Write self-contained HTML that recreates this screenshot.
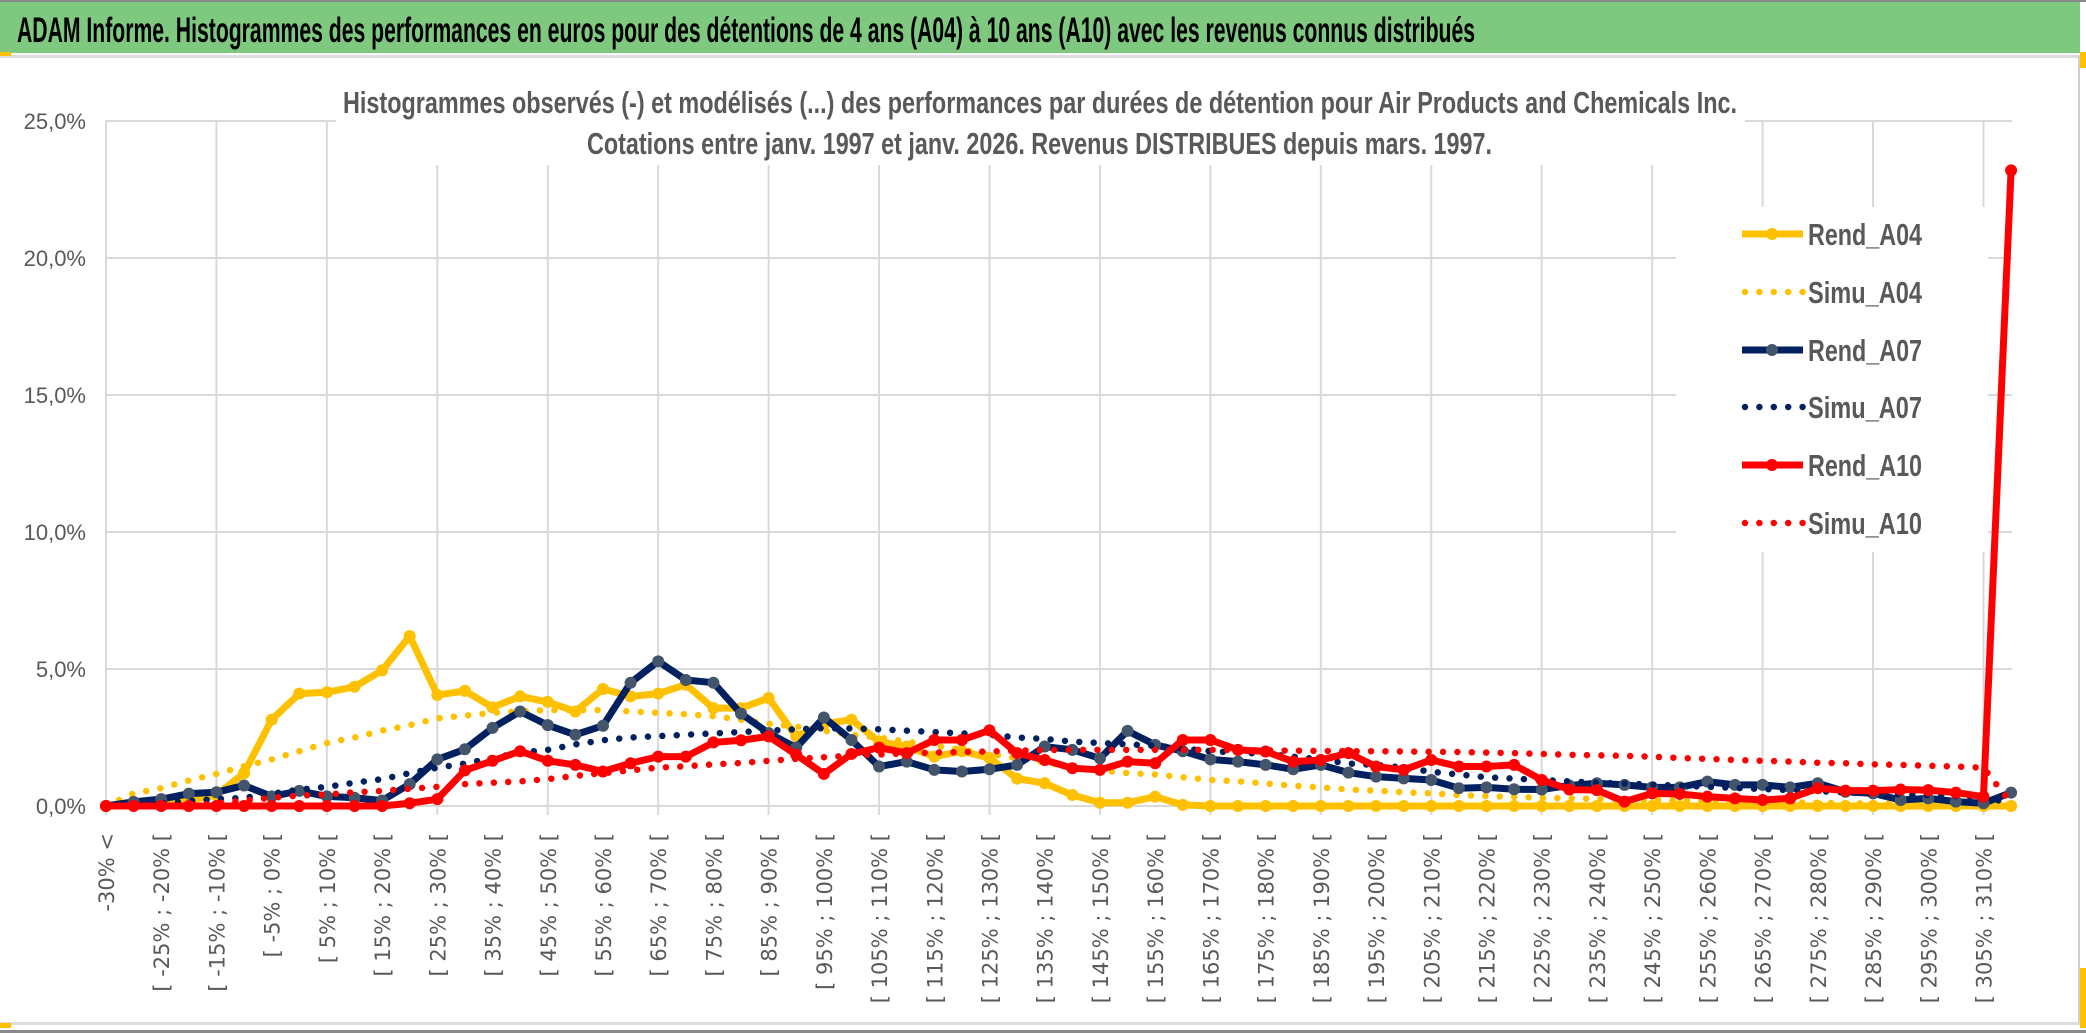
<!DOCTYPE html>
<html><head><meta charset="utf-8"><title>ADAM Informe</title>
<style>
html,body{margin:0;padding:0;background:#fff;}
svg{display:block;}
</style></head>
<body>
<svg id="chart" width="2086" height="1033" viewBox="0 0 2086 1033" xmlns="http://www.w3.org/2000/svg">
  <rect x="0" y="0" width="2086" height="1033" fill="#fff"/>
  <rect x="0" y="0" width="2086" height="2" fill="#8a8a8a"/>
  <rect x="0" y="2" width="2080" height="51" fill="#7ec97f"/>
  <text x="17" y="42" font-family="'Liberation Sans Narrow','Liberation Sans',sans-serif" font-weight="bold" font-size="35" fill="#000" textLength="1458" lengthAdjust="spacingAndGlyphs">ADAM Informe. Histogrammes des performances en euros pour des détentions de 4 ans (A04) à 10 ans (A10) avec les revenus connus distribués</text>
  <rect x="0" y="55" width="2080" height="3" fill="#dcdcdc"/>
  <rect x="2078" y="55" width="2" height="970" fill="#d0d0d0"/>
  <rect x="0" y="1022" width="2080" height="3" fill="#dcdcdc"/>
  <rect x="0" y="1030" width="2086" height="3" fill="#8a8a8a"/>
  <rect x="0" y="52" width="11" height="4" fill="#ffc000"/>
  <rect x="0" y="1023" width="11" height="5" fill="#ffc000"/>
  <rect x="2080" y="52" width="6" height="16" fill="#ffc000"/>
  <rect x="2080" y="968" width="6" height="60" fill="#ffc000"/>
  <g id="grid"></g>
  <g id="series"></g>
  <g id="overlay"></g>
</svg>
<script>
const yTicks = [0, 5, 10, 15, 20, 25];
const yTickLabels = ["0,0%", "5,0%", "10,0%", "15,0%", "20,0%", "25,0%"];
const categories = ["-30% <","[ -30% ; -25% [","[ -25% ; -20% [","[ -20% ; -15% [","[ -15% ; -10% [","[ -10% ; -5% [","[ -5% ; 0% [","[ 0% ; 5% [","[ 5% ; 10% [","[ 10% ; 15% [","[ 15% ; 20% [","[ 20% ; 25% [","[ 25% ; 30% [","[ 30% ; 35% [","[ 35% ; 40% [","[ 40% ; 45% [","[ 45% ; 50% [","[ 50% ; 55% [","[ 55% ; 60% [","[ 60% ; 65% [","[ 65% ; 70% [","[ 70% ; 75% [","[ 75% ; 80% [","[ 80% ; 85% [","[ 85% ; 90% [","[ 90% ; 95% [","[ 95% ; 100% [","[ 100% ; 105% [","[ 105% ; 110% [","[ 110% ; 115% [","[ 115% ; 120% [","[ 120% ; 125% [","[ 125% ; 130% [","[ 130% ; 135% [","[ 135% ; 140% [","[ 140% ; 145% [","[ 145% ; 150% [","[ 150% ; 155% [","[ 155% ; 160% [","[ 160% ; 165% [","[ 165% ; 170% [","[ 170% ; 175% [","[ 175% ; 180% [","[ 180% ; 185% [","[ 185% ; 190% [","[ 190% ; 195% [","[ 195% ; 200% [","[ 200% ; 205% [","[ 205% ; 210% [","[ 210% ; 215% [","[ 215% ; 220% [","[ 220% ; 225% [","[ 225% ; 230% [","[ 230% ; 235% [","[ 235% ; 240% [","[ 240% ; 245% [","[ 245% ; 250% [","[ 250% ; 255% [","[ 255% ; 260% [","[ 260% ; 265% [","[ 265% ; 270% [","[ 270% ; 275% [","[ 275% ; 280% [","[ 280% ; 285% [","[ 285% ; 290% [","[ 290% ; 295% [","[ 295% ; 300% [","[ 300% ; 305% [","[ 305% ; 310% [","310% >"];
const rendA04 = [0,0.05,0.1,0.2,0.4,1.2,3.15,4.1,4.15,4.35, 4.95,6.2,4.05,4.2,3.6,4.0,3.8,3.45,4.27,4.0, 4.1,4.43,3.57,3.57,3.94,2.54,3.0,3.15,2.35,2.17, 1.8,2.0,1.75,1.0,0.83,0.4,0.12,0.12,0.34,0.04, 0,0,0,0,0,0,0,0,0,0, 0,0,0,0,0,0,0,0,0,0, 0,0,0,0,0,0,0,0,0,0];
const simuA04 = [0,0.46,0.65,0.93,1.17,1.45,1.7,2.0,2.3,2.5, 2.75,2.95,3.2,3.3,3.4,3.45,3.5,3.5,3.5,3.45, 3.4,3.35,3.28,3.15,3.0,2.9,2.75,2.6,2.5,2.35, 2.2,2.05,1.9,1.75,1.6,1.4,1.3,1.2,1.15,1.05, 0.95,0.9,0.82,0.74,0.68,0.6,0.56,0.5,0.46,0.4, 0.36,0.33,0.3,0.28,0.26,0.24,0.22,0.2,0.18,0.16, 0.14,0.13,0.12,0.1,0.09,0.08,0.07,0.06,0.05,0.0];
const rendA07 = [0,0.15,0.25,0.45,0.5,0.75,0.35,0.55,0.35,0.3, 0.2,0.8,1.7,2.07,2.85,3.45,2.95,2.6,2.93,4.5, 5.28,4.6,4.5,3.37,2.66,2.13,3.23,2.41,1.44,1.62, 1.32,1.26,1.34,1.5,2.17,2.05,1.74,2.74,2.23,2.0, 1.7,1.62,1.5,1.34,1.5,1.22,1.07,1.01,0.95,0.65, 0.68,0.61,0.6,0.75,0.83,0.77,0.68,0.68,0.89,0.77, 0.77,0.68,0.83,0.52,0.46,0.22,0.28,0.16,0.1,0.49];
const simuA07 = [0,0.05,0.1,0.18,0.25,0.3,0.45,0.6,0.7,0.85, 0.98,1.2,1.4,1.55,1.75,1.95,2.05,2.25,2.4,2.5, 2.55,2.6,2.65,2.7,2.75,2.8,2.84,2.83,2.8,2.75, 2.7,2.65,2.6,2.5,2.45,2.35,2.3,2.25,2.2,2.1, 2.0,1.95,1.9,1.8,1.7,1.55,1.5,1.4,1.25,1.15, 1.05,1.0,0.95,0.9,0.85,0.82,0.78,0.74,0.7,0.66, 0.62,0.58,0.54,0.5,0.46,0.42,0.39,0.36,0.33,0.1];
const rendA10 = [0,0,0,0,0,0,0,0,0,0, 0,0.1,0.25,1.3,1.65,2.0,1.65,1.5,1.26,1.56, 1.8,1.8,2.32,2.4,2.54,1.87,1.17,1.9,2.13,1.93, 2.41,2.41,2.76,1.93,1.68,1.38,1.32,1.62,1.56,2.41, 2.41,2.05,1.99,1.62,1.68,1.93,1.44,1.32,1.68,1.44, 1.44,1.5,0.95,0.6,0.58,0.16,0.46,0.44,0.34,0.28, 0.22,0.28,0.65,0.56,0.56,0.6,0.58,0.49,0.34,23.2];
const simuA10 = [0,0,0,0,0.1,0.2,0.3,0.38,0.42,0.5, 0.55,0.63,0.7,0.8,0.85,0.9,0.98,1.1,1.2,1.3, 1.4,1.45,1.52,1.57,1.65,1.72,1.78,1.84,1.88,1.92, 1.95,1.97,1.99,2.02,2.04,2.05,2.05,2.05,2.05,2.05, 2.05,2.04,2.03,2.02,2.01,2.0,2.0,1.99,1.98,1.97, 1.95,1.93,1.9,1.87,1.85,1.83,1.8,1.75,1.72,1.68, 1.65,1.62,1.58,1.56,1.52,1.5,1.47,1.44,1.4,0.1];
const seriesNames = ["Rend_A04","Simu_A04","Rend_A07","Simu_A07","Rend_A10","Simu_A10"];

const NS = "http://www.w3.org/2000/svg";
const X0 = 106, XSTEP = 27.61, Y0 = 806, YPER = 27.4;
function xPos(i){ return X0 + i * XSTEP; }
function yPos(v){ return Y0 - v * YPER; }
function mk(tag, attrs, parent){
  const e = document.createElementNS(NS, tag);
  for (const k in attrs) e.setAttribute(k, attrs[k]);
  parent.appendChild(e);
  return e;
}
const grid = document.getElementById('grid');
const series = document.getElementById('series');
const overlay = document.getElementById('overlay');
const GRAY = "#595959";
const xRight = xPos(categories.length - 1) + 1;

yTicks.forEach((t, k) => {
  const ln = mk('line', {x1: X0, x2: xRight, y1: yPos(t), y2: yPos(t), stroke: '#d9d9d9', 'stroke-width': 2}, grid);
  
  
  const tx = mk('text', {x: 86, y: yPos(t) + 8, 'text-anchor': 'end', 'font-family': "'Liberation Sans Narrow','Liberation Sans',sans-serif", 'font-size': 22, fill: GRAY}, grid);
  tx.textContent = yTickLabels[k];
  
  
});
for (let i = 0; i < categories.length; i += 4) {
  const ln = mk('line', {x1: xPos(i), x2: xPos(i), y1: yPos(25), y2: Y0 + 9, stroke: '#d9d9d9', 'stroke-width': 2}, grid);
  
  
}
for (let i = 0; i < categories.length; i += 2) {
  const cx = xPos(i) + 1;
  const tx = mk('text', {x: 0, y: 0, transform: 'translate(' + cx + ',833) rotate(-90)', 'text-anchor': 'end', 'dominant-baseline': 'central', 'font-family': "'DejaVu Sans',sans-serif", 'font-size': 21, fill: GRAY}, grid);
  tx.textContent = categories[i];
  
  
}

function pathFor(vals){
  return vals.map((v, i) => (i ? 'L' : 'M') + xPos(i).toFixed(2) + ' ' + yPos(v).toFixed(2)).join(' ');
}
function drawRend(vals, color, mcolor, name){
  const p = mk('path', {d: pathFor(vals), fill: 'none', stroke: color, 'stroke-width': 7, 'stroke-linejoin': 'round'}, series);
  
  
  vals.forEach((v, i) => {
    const c = mk('circle', {cx: xPos(i), cy: yPos(v), r: 6, fill: mcolor}, series);
    
    
  });
}
function drawSimu(vals, color, name){
  const p = mk('path', {d: pathFor(vals), fill: 'none', stroke: color, 'stroke-width': 6.5, 'stroke-linecap': 'round', 'stroke-dasharray': '0 14.4'}, series);
  
  
}

const tb = mk('rect', {x: 336, y: 60, width: 1409, height: 105, fill: '#fff'}, overlay);


const t1 = mk('text', {x: 343, y: 113, 'font-family': "'Liberation Sans Narrow','Liberation Sans',sans-serif", 'font-size': 31, 'font-weight': 'bold', fill: GRAY, textLength: 1394, lengthAdjust: 'spacingAndGlyphs'}, overlay);
t1.textContent = "Histogrammes observés (-) et modélisés (...) des performances par durées de détention pour Air Products and Chemicals Inc.";


const t2 = mk('text', {x: 587, y: 154, 'font-family': "'Liberation Sans Narrow','Liberation Sans',sans-serif", 'font-size': 31, 'font-weight': 'bold', fill: GRAY, textLength: 905, lengthAdjust: 'spacingAndGlyphs'}, overlay);
t2.textContent = "Cotations entre janv. 1997 et janv. 2026. Revenus DISTRIBUES depuis mars. 1997.";



const lb = mk('rect', {x: 1676, y: 207, width: 312, height: 345, fill: '#fff'}, grid);



drawRend(rendA04, '#ffc000', '#ffc000', 'rend-a04');
drawSimu(simuA04, '#ffc000', 'simu-a04');
drawRend(rendA07, '#002060', '#44546a', 'rend-a07');
drawSimu(simuA07, '#002060', 'simu-a07');
drawRend(rendA10, '#ff0000', '#ff0000', 'rend-a10');
drawSimu(simuA10, '#ff0000', 'simu-a10');

const legColors = ['#ffc000', '#ffc000', '#002060', '#002060', '#ff0000', '#ff0000'];
const legMarker = ['#ffc000', null, '#44546a', null, '#ff0000', null];
const legY = [234, 292, 350, 407, 465, 523];
seriesNames.forEach((nm, k) => {
  const g = mk('g', {}, grid);
  
  
  const y = legY[k];
  if (legMarker[k]) {
    mk('line', {x1: 1742, x2: 1803, y1: y, y2: y, stroke: legColors[k], 'stroke-width': 7}, g);
    mk('circle', {cx: 1772, cy: y, r: 6, fill: legMarker[k]}, g);
  } else {
    mk('line', {x1: 1745, x2: 1803, y1: y, y2: y, stroke: legColors[k], 'stroke-width': 6.5, 'stroke-linecap': 'round', 'stroke-dasharray': '0 14.4'}, g);
  }
  const tx = mk('text', {x: 1808, y: y + 11, 'font-family': "'Liberation Sans Narrow','Liberation Sans',sans-serif", 'font-size': 31, 'font-weight': 'bold', fill: GRAY, textLength: 114, lengthAdjust: 'spacingAndGlyphs'}, g);
  tx.textContent = nm;
});
</script>
</body></html>
